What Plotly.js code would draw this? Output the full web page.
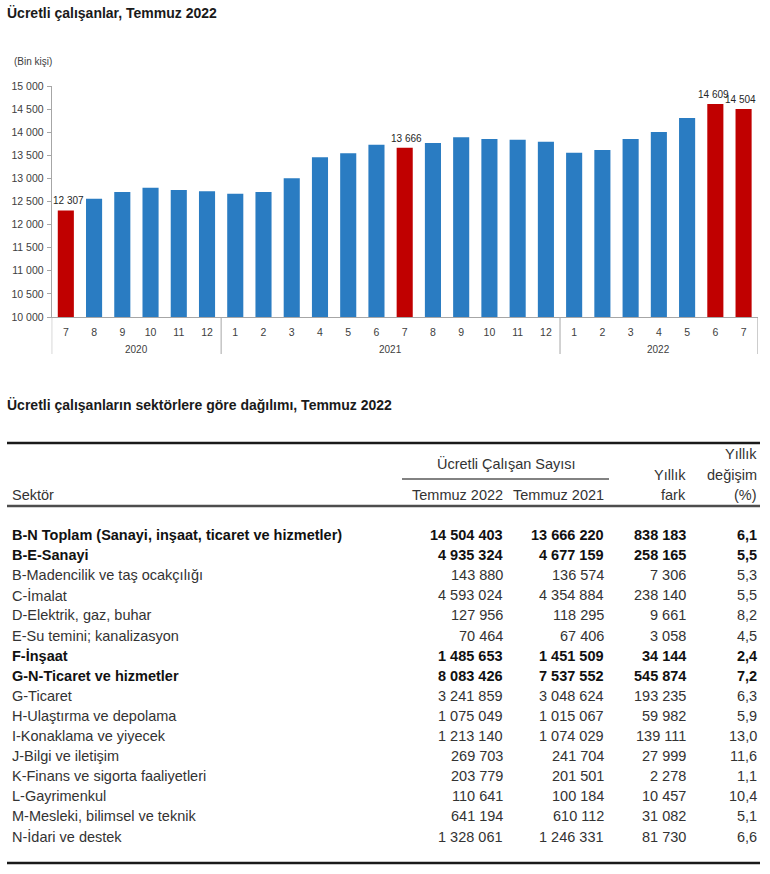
<!DOCTYPE html>
<html>
<head>
<meta charset="utf-8">
<script src="https://cdn.plot.ly/plotly-3.0.1.min.js"></script>
<style>html,body{margin:0;padding:0;background:#fff;}</style>
</head>
<body>
<div id="chart" style="width:770px;height:874px;"></div>
<script>
// ---------- Chart data (thousand persons) ----------
const periodMonths = ['7','8','9','10','11','12','1','2','3','4','5','6','7','8','9','10','11','12','1','2','3','4','5','6','7'];
const periodYears  = ['2020','2020','2020','2020','2020','2020',
                      '2021','2021','2021','2021','2021','2021','2021','2021','2021','2021','2021','2021',
                      '2022','2022','2022','2022','2022','2022','2022'];
const employees    = [12307, 12561, 12706, 12799, 12749, 12720,
                      12669, 12706, 13002, 13456, 13543, 13730, 13666, 13766, 13889, 13853, 13838, 13795,
                      13557, 13615, 13853, 14004, 14307, 14609, 14504];
const highlighted  = [1,0,0,0,0,0, 0,0,0,0,0,0,1,0,0,0,0,0, 0,0,0,0,0,1,1];

// ---------- Table data ----------
const sectors = ['B-N Toplam (Sanayi, inşaat, ticaret ve hizmetler)', 'B-E-Sanayi', 'B-Madencilik ve taş ocakçılığı',
  'C-İmalat', 'D-Elektrik, gaz, buhar', 'E-Su temini; kanalizasyon', 'F-İnşaat', 'G-N-Ticaret ve hizmetler',
  'G-Ticaret', 'H-Ulaştırma ve depolama', 'I-Konaklama ve yiyecek', 'J-Bilgi ve iletişim',
  'K-Finans ve sigorta faaliyetleri', 'L-Gayrimenkul', 'M-Mesleki, bilimsel ve teknik', 'N-İdari ve destek'];
const july2022 = [14504403, 4935324, 143880, 4593024, 127956, 70464, 1485653, 8083426, 3241859, 1075049, 1213140, 269703, 203779, 110641, 641194, 1328061];
const july2021 = [13666220, 4677159, 136574, 4354884, 118295, 67406, 1451509, 7537552, 3048624, 1015067, 1074029, 241704, 201501, 100184, 610112, 1246331];
const annualDiff = [838183, 258165, 7306, 238140, 9661, 3058, 34144, 545874, 193235, 59982, 139111, 27999, 2278, 10457, 31082, 81730];
const annualPct = [6.1, 5.5, 5.3, 5.5, 8.2, 4.5, 2.4, 7.2, 6.3, 5.9, 13.0, 11.6, 1.1, 10.4, 5.1, 6.6];
const boldRows = [1,1,0,0,0,0,1,1,0,0,0,0,0,0,0,0];

// ---------- helpers / styling ----------
const W = 770, H = 874;
const FONT = 'Liberation Sans, Arial, sans-serif';
const px = p => p / W;
const py = p => 1 - p / H;
const fmtInt = n => String(n).replace(/\B(?=(\d{3})+(?!\d))/g, ' ');
const fmtPct = v => v.toFixed(1).replace('.', ',');
const BLUE = '#2a7cc2', RED = '#c00000', AXIS = '#a6a6a6', TXT = '#404040';

const idx = employees.map((_, i) => i);

const barTrace = {
  type: 'bar', x: idx, y: employees,
  marker: {color: highlighted.map(h => h ? RED : BLUE), line: {width: 0}},
  hoverinfo: 'skip'
};

const annotations = [];
const shapes = [];

// titles
annotations.push({xref:'paper', yref:'paper', x:px(5), y:py(13), xanchor:'left', yanchor:'middle', showarrow:false,
  text:'<b>Ücretli çalışanlar, Temmuz 2022</b>', font:{family:FONT, size:14, color:'#1a1a1a'}});
annotations.push({xref:'paper', yref:'paper', x:px(12), y:py(62), xanchor:'left', yanchor:'middle', showarrow:false,
  text:'(Bin kişi)', font:{family:FONT, size:10, color:TXT}});

// value labels on highlighted bars (small horizontal nudges, as in the original, to avoid overlaps)
const n = employees.length;
idx.forEach(i => {
  if (highlighted[i]) {
    const nudge = i === 0 ? 3 : (i === n - 1 ? -3 : (i === n - 2 ? -2 : 2));
    annotations.push({xref:'x', yref:'y', x:i, y:employees[i], xanchor:'center', yanchor:'bottom', yshift:3, xshift:nudge,
      showarrow:false, borderpad:0, text:fmtInt(employees[i]), font:{family:FONT, size:10, color:'#262626'}});
  }
});

// year groups
const groups = [];
periodYears.forEach((y, i) => {
  if (!groups.length || groups[groups.length-1].year !== y) groups.push({year:y, start:i, end:i});
  else groups[groups.length-1].end = i;
});
groups.forEach((g, k) => {
  annotations.push({xref:'x', yref:'paper', x:(g.start + g.end)/2, y:py(349), xanchor:'center', yanchor:'middle',
    showarrow:false, text:g.year, font:{family:FONT, size:10, color:TXT}});
  shapes.push({type:'line', xref:'x', yref:'paper', x0:g.start-0.5, x1:g.start-0.5, y0:py(317), y1:py(354),
    line:{color:AXIS, width:1}});
  if (k === groups.length-1) {
    shapes.push({type:'line', xref:'x', yref:'paper', x0:g.end+0.5, x1:g.end+0.5, y0:py(317), y1:py(354),
      line:{color:AXIS, width:1}});
  }
});

// ---------- table ----------
annotations.push({xref:'paper', yref:'paper', x:px(5), y:py(405), xanchor:'left', yanchor:'middle', showarrow:false,
  text:'<b>Ücretli çalışanların sektörlere göre dağılımı, Temmuz 2022</b>', font:{family:FONT, size:14, color:'#1a1a1a'}});

const TLEFT = 7, TRIGHT = 760;
const colRight = [504, 605, 687, 758];
const textLeft = 11;
const TSIZE = 14.5;
const hFont = {family:FONT, size:TSIZE, color:'#333'};
function txt(text, x, y, anchor, font) {
  annotations.push({xref:'paper', yref:'paper', x:px(x), y:py(y), xanchor:anchor, yanchor:'middle',
    showarrow:false, borderpad:0, text:text, font:font});
}
function hline(y, x0, x1, color, width) {
  shapes.push({type:'line', xref:'paper', yref:'paper', x0:px(x0), x1:px(x1), y0:py(y), y1:py(y), line:{color:color, width:width}});
}
hline(443, TLEFT, TRIGHT, '#1a1a1a', 2.5);
hline(479, 402, 609, '#595959', 1.5);
hline(506, TLEFT, TRIGHT, '#4d4d4d', 2.5);
hline(863, TLEFT, TRIGHT, '#1a1a1a', 2.5);

txt('Ücretli Çalışan Sayısı', 506, 463, 'center', hFont);
txt('Sektör', textLeft, 495, 'left', hFont);
txt('Temmuz 2022', colRight[0], 495, 'right', hFont);
txt('Temmuz 2021', colRight[1], 495, 'right', hFont);
txt('Yıllık', colRight[2], 475, 'right', hFont);
txt('fark', colRight[2], 495, 'right', hFont);
txt('Yıllık', colRight[3], 454, 'right', hFont);
txt('değişim', colRight[3], 475, 'right', hFont);
txt('(%)', colRight[3], 495, 'right', hFont);

const ROW0 = 535, ROWSTEP = 20.1;
sectors.forEach((s, r) => {
  const y = ROW0 + r * ROWSTEP;
  const b = boldRows[r];
  const f = {family:FONT, size:TSIZE, color: b ? '#111' : '#333'};
  const w = t => b ? '<b>' + t + '</b>' : t;
  txt(w(s), textLeft, y, 'left', f);
  txt(w(fmtInt(july2022[r])), colRight[0], y, 'right', f);
  txt(w(fmtInt(july2021[r])), colRight[1], y, 'right', f);
  txt(w(fmtInt(annualDiff[r])), colRight[2], y, 'right', f);
  txt(w(fmtPct(annualPct[r])), colRight[3], y, 'right', f);
});

const layout = {
  width: W, height: H,
  margin: {l:0, r:0, t:0, b:0},
  paper_bgcolor: '#fff', plot_bgcolor: '#fff',
  showlegend: false,
  separators: ', ',
  bargap: 0.43,
  font: {family: FONT, color: TXT},
  xaxis: {
    domain: [px(51.7), px(757.7)], range: [-0.5, idx.length - 0.5],
    tickmode: 'array', tickvals: idx, ticktext: periodMonths,
    ticks: '', showgrid: false, zeroline: false,
    showline: true, linecolor: AXIS, linewidth: 1,
    tickfont: {family: FONT, size: 10.5, color: TXT},
    ticklabelstandoff: 5, fixedrange: true
  },
  yaxis: {
    domain: [py(317), py(86)], range: [10000, 15000],
    dtick: 500, tick0: 10000, tickformat: ',d',
    ticks: 'outside', ticklen: 4, tickcolor: AXIS, tickwidth: 1,
    showgrid: false, zeroline: false,
    showline: true, linecolor: AXIS, linewidth: 1,
    tickfont: {family: FONT, size: 10.5, color: TXT},
    ticklabelstandoff: 1, fixedrange: true
  },
  annotations: annotations,
  shapes: shapes
};

Plotly.newPlot('chart', [barTrace], layout, {displayModeBar: false, staticPlot: true});
</script>
</body>
</html>
